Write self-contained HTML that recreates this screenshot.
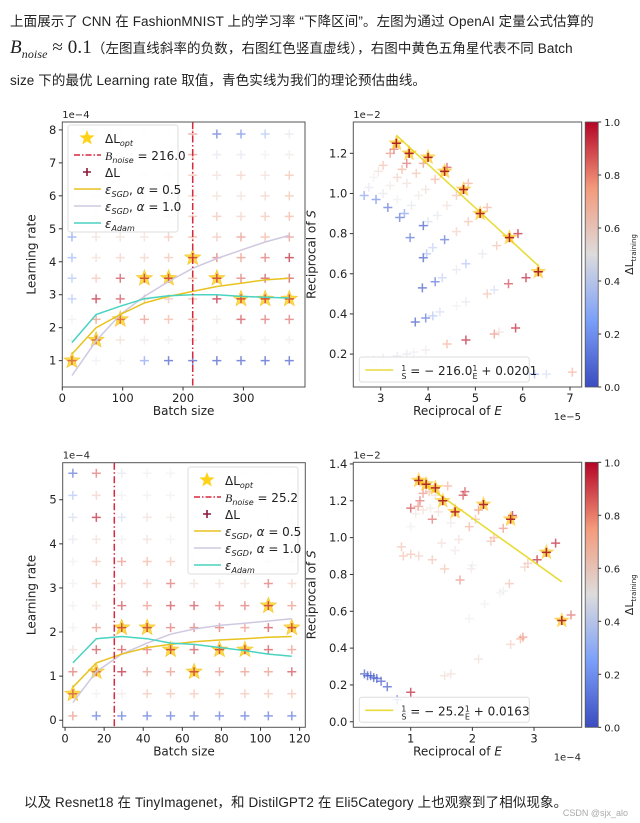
<!DOCTYPE html>
<html><head><meta charset="utf-8">
<style>
html,body{margin:0;padding:0;background:#fff;}
body{width:640px;height:823px;position:relative;overflow:hidden;font-family:"Liberation Sans","Noto Sans CJK SC",sans-serif;color:#222;}
.p{position:absolute;left:10px;font-size:13.5px;white-space:nowrap;letter-spacing:0.1px;}
svg text{font-family:"DejaVu Sans","Liberation Sans",sans-serif;fill:#222;}
</style></head>
<body>
<div class="p" style="top:10px">上面展示了 CNN 在 FashionMNIST 上的学习率 “下降区间”。左图为通过 OpenAI 定量公式估算的</div>
<div class="p" style="top:37px"><span style="font-family:'Liberation Serif',serif;font-size:19px;font-style:italic">B<sub style="font-size:12px">noise</sub></span><span style="font-family:'Liberation Serif',serif;font-size:19px"> ≈ 0.1</span>（左图直线斜率的负数，右图红色竖直虚线），右图中黄色五角星代表不同 Batch</div>
<div class="p" style="top:69px">size 下的最优 Learning rate 取值，青色实线为我们的理论预估曲线。</div>
<div class="p" style="top:791px;left:24px">以及 Resnet18 在 TinyImagenet，和 DistilGPT2 在 Eli5Category 上也观察到了相似现象。</div>
<div style="position:absolute;right:12px;top:808px;font-size:9px;color:#aaa">CSDN @sjx_alo</div>

<svg id="svg" width="640" height="823" style="position:absolute;left:0;top:0"></svg>

<script>
const tlBatch = [16,56,96,136,176,216,256,296,336,376];
const tlLR = [1,1.625,2.25,2.875,3.5,4.125,4.75,5.375,6,6.625,7.25,7.875];
const tlDL = [
 [0.9,0.5,0.5,0.2,0.05,0.05,0.05,0.05,0.05,0.05],
 [0.5,0.9,0.6,0.55,0.52,0.55,0.5,0.5,0.5,0.5],
 [0.5,0.8,0.9,0.8,0.75,0.8,0.55,0.9,0.85,0.85],
 [0.3,0.95,0.9,0.75,0.7,0.75,0.95,0.95,0.95,0.95],
 [0.3,0.7,0.9,0.95,0.95,0.75,0.95,0.85,0.9,0.9],
 [0.25,0.6,0.65,0.65,0.7,0.95,0.85,0.8,0.85,0.95],
 [0.2,0.6,0.6,0.6,0.7,0.75,0.7,0.8,0.75,0.8],
 [0.5,0.6,0.6,0.6,0.65,0.7,0.7,0.65,0.7,0.75],
 [0.5,0.55,0.55,0.6,0.6,0.65,0.6,0.6,0.65,0.7],
 [0.5,0.5,0.5,0.55,0.55,0.7,0.6,0.65,0.6,0.7],
 [0.5,0.5,0.5,0.5,0.5,0.8,0.45,0.45,0.5,0.55],
 [0.5,0.5,0.5,0.5,0.5,0.8,0.1,0.15,0.3,0.45]
];
const tlStarB = [16,56,96,136,176,216,256,296,336,376];
const tlStarLR = [1,1.625,2.25,3.5,3.5,4.125,3.5,2.875,2.875,2.875];
const tlSgd05 = [1.2,2.0,2.4,2.75,2.95,3.1,3.25,3.35,3.45,3.5];
const tlSgd10 = [0.55,1.6,2.4,2.95,3.4,3.8,4.1,4.35,4.6,4.8];
const tlAdam = [1.55,2.4,2.65,2.88,2.97,3.0,3.0,2.95,2.92,2.9];
const tlBnoise = 216.0;
const tlXTicks = [0,100,200,300];
const tlYTicks = [1,2,3,4,5,6,7,8];

const trE = [2.65,2.75,2.85,2.95,3.05,3.2,3.28,3.33, 2.9,3.05,3.2,3.35,3.45,3.55,3.6, 3.15,3.35,3.55,3.75,3.9,4.0,
 3.4,3.5,3.65,3.8,3.95,4.15,4.35,4.4, 3.62,3.9,4.0,4.2,4.4,4.6,4.75,4.85, 3.9,3.97,4.1,4.35,4.6,4.85,5.1,5.25,
 3.88,4.15,4.3,4.6,4.8,5.15,5.45,5.72,5.9, 3.73,3.95,4.1,4.25,4.6,4.8,5.25,5.4,5.7,6.07,6.33,
 2.85,3.05,3.35,3.55,3.7,3.95,4.4,4.8,5.4,5.5,5.85, 5.8,5.95,6.1,6.25,6.5,7.05];
const trS = [0.99,1.03,1.08,1.11,1.14,1.2,1.22,1.25, 0.97,1.0,1.04,1.08,1.12,1.15,1.2, 0.93,0.97,1.05,1.1,1.15,1.18,
 0.88,0.9,0.94,0.99,1.02,1.07,1.11,1.13, 0.78,0.84,0.86,0.89,0.94,0.99,1.02,1.05, 0.68,0.7,0.73,0.77,0.81,0.86,0.9,0.93,
 0.53,0.56,0.58,0.62,0.65,0.7,0.74,0.78,0.8, 0.36,0.38,0.39,0.41,0.44,0.46,0.5,0.52,0.55,0.58,0.61,
 0.17,0.18,0.19,0.2,0.21,0.22,0.25,0.27,0.3,0.31,0.33, 0.1,0.1,0.1,0.1,0.1,0.11];
const trV = [0.2,0.45,0.5,0.6,0.7,0.8,0.85,0.95, 0.15,0.45,0.55,0.65,0.75,0.85,0.95, 0.1,0.5,0.6,0.7,0.8,0.9,
 0.1,0.2,0.45,0.55,0.6,0.75,0.95,0.9, 0.1,0.05,0.4,0.45,0.6,0.7,0.9,0.75, 0.05,0.3,0.35,0.1,0.65,0.7,0.85,0.75,
 0.05,0.1,0.35,0.45,0.3,0.45,0.7,0.9,0.95, 0.05,0.1,0.3,0.4,0.5,0.45,0.7,0.4,0.9,0.95,0.9,
 0.45,0.45,0.45,0.45,0.5,0.55,0.75,0.95,0.8,0.6,0.95, 0.4,0.35,0.3,0.25,0.4,0.75];
const trStarE = [3.33,3.6,4.0,4.35,4.75,5.1,5.72,6.33];
const trStarS = [1.25,1.2,1.18,1.11,1.02,0.9,0.78,0.61];
const trFitE = [3.33,6.33];
const trFitS = [1.29,0.64];
const trXTicks = [3,4,5,6,7];
const trYTicks = [0.2,0.4,0.6,0.8,1.0,1.2];

const blBatch = [4,16,29,42,54,66,79,92,104,116];
const blLR = [0.1,0.6,1.1,1.6,2.1,2.6,3.1,3.6,4.1,4.6,5.1,5.6];
const blDL = [
 [0.8,0.1,0.1,0.1,0.1,0.1,0.1,0.1,0.1,0.1],
 [0.9,0.5,0.55,0.7,0.7,0.7,0.7,0.7,0.7,0.7],
 [0.85,0.9,0.95,0.8,0.8,0.95,0.8,0.8,0.8,0.9],
 [0.6,0.9,0.9,0.85,0.95,0.9,0.95,0.95,0.9,0.8],
 [0.5,0.8,0.95,0.95,0.85,0.85,0.85,0.8,0.9,0.95],
 [0.5,0.6,0.9,0.8,0.9,0.9,0.85,0.85,0.95,0.8],
 [0.5,0.7,0.7,0.7,0.85,0.6,0.6,0.6,0.85,0.65],
 [0.5,0.7,0.8,0.75,0.7,0.6,0.6,0.6,0.6,0.6],
 [0.45,0.6,0.5,0.6,0.5,0.55,0.5,0.55,0.5,0.5],
 [0.4,0.95,0.4,0.6,0.55,0.5,0.5,0.5,0.5,0.5],
 [0.3,0.65,0.5,0.5,0.5,0.5,0.5,0.5,0.5,0.5],
 [0.1,0.85,0.45,0.5,0.5,0.5,0.5,0.5,0.5,0.5]
];
const blStarB = [4,16,29,42,54,66,79,92,104,116];
const blStarLR = [0.6,1.1,2.1,2.1,1.6,1.1,1.6,1.6,2.6,2.1];
const blSgd05 = [0.75,1.3,1.5,1.65,1.72,1.78,1.82,1.85,1.88,1.9];
const blSgd10 = [0.4,1.1,1.5,1.75,1.95,2.07,2.15,2.2,2.25,2.3];
const blAdam = [1.3,1.85,1.9,1.85,1.75,1.72,1.65,1.58,1.5,1.45];
const blBnoise = 25.2;
const blXTicks = [0,20,40,60,80,100,120];
const blYTicks = [0,1,2,3,4,5];

const brE = [0.25,0.3,0.35,0.4,0.45,0.52,0.62,0.78,0.9,0.95, 1.0,1.0,1.12,1.15,1.2,1.0,0.85,0.88,1.0,1.13,1.35,1.35,1.45,1.5,1.55,1.6,1.65,1.72,1.78,1.8,1.85,1.88,1.95,1.98,2.0,2.05,2.1,2.2,1.95,2.1,1.55,1.65,2.3,2.35,2.45,2.5,2.5,2.6,2.62,2.78,2.82,2.85,2.9,3.05,3.35,3.6,2.65,1.25,1.3,1.15,1.08,1.2,1.32,1.4];
const brS = [0.26,0.25,0.25,0.24,0.235,0.22,0.19,0.12,0.05,0.03, 0.16,1.16,1.17,1.2,1.24,1.06,0.95,0.9,0.91,0.9,0.88,1.1,1.14,0.97,0.83,1.28,1.08,0.93,0.99,0.77,1.23,1.25,1.06,0.83,0.85,1.1,1.15,0.64,0.56,0.34,0.25,0.26,0.98,1.0,0.7,0.71,1.05,0.75,0.42,0.45,0.46,0.84,0.86,0.88,0.97,0.58,1.12,1.27,1.25,1.3,1.13,1.15,1.16,1.23];
const brV = [0.05,0.05,0.05,0.05,0.05,0.05,0.05,0.1,0.3,0.35, 0.95,0.9,0.8,0.85,0.8,0.5,0.7,0.7,0.7,0.65,0.7,0.85,0.6,0.6,0.7,0.75,0.55,0.55,0.6,0.8,0.9,0.9,0.75,0.55,0.5,0.7,0.8,0.5,0.5,0.6,0.6,0.6,0.7,0.75,0.5,0.5,0.8,0.7,0.65,0.75,0.8,0.65,0.7,0.95,0.95,0.85,0.95,0.7,0.7,0.65,0.55,0.6,0.55,0.6];
const brStarE = [1.13,1.25,1.4,1.52,1.72,2.18,2.62,3.2,3.45];
const brStarS = [1.31,1.29,1.27,1.2,1.14,1.18,1.1,0.92,0.55];
const brFitE = [1.1,3.45];
const brFitS = [1.32,0.76];
const brXTicks = [1,2,3];
const brYTicks = [0,0.2,0.4,0.6,0.8,1.0,1.2,1.4];
const cbTicks = [0,0.2,0.4,0.6,0.8,1.0];

const NS = "http://www.w3.org/2000/svg";
const svg = document.getElementById('svg');
function mk(tag, attrs, parent){const e=document.createElementNS(NS,tag);for(const k in attrs)e.setAttribute(k,attrs[k]);(parent||svg).appendChild(e);return e;}
const cw=[[0,[59,76,192]],[0.25,[123,159,249]],[0.5,[221,220,220]],[0.75,[244,154,123]],[1,[180,4,38]]];
function cmap(v){v=Math.max(0,Math.min(1,v));for(let i=0;i<cw.length-1;i++){const a=cw[i],b=cw[i+1];if(v<=b[0]){const t=(v-a[0])/(b[0]-a[0]);return 'rgb('+a[1].map((c,j)=>Math.round(c+(b[1][j]-c)*t)).join(',')+')';}}return 'rgb(180,4,38)';}
function scale(d0,d1,p0,p1){return v=>p0+(v-d0)/(d1-d0)*(p1-p0);}
function starPath(cx,cy,R){let d='';for(let i=0;i<10;i++){const r=i%2?R*0.42:R;const a=-Math.PI/2+i*Math.PI/5;d+=(i?'L':'M')+(cx+r*Math.cos(a)).toFixed(1)+' '+(cy+r*Math.sin(a)).toFixed(1);}return d+'Z';}
function plus(g,x,y,col,op,s){return mk('path',{d:`M${x-s} ${y}H${x+s}M${x} ${y-s}V${y+s}`,stroke:col,'stroke-width':1.5,opacity:op},g);}
function opac(v){return 0.3+0.45*Math.abs(v-0.5)*2;}
function txt(g,x,y,s,opts){const t=mk('text',Object.assign({x:x,y:y,'font-size':11.5},opts||{}),g);t.textContent=s;return t;}
function axesFrame(name,L,T,R,B,sx,sy,xt,yt,xfmt,yfmt){
  const g=mk('g',{});
  
  
  xt.forEach(v=>{const x=sx(v);mk('line',{x1:x,x2:x,y1:B,y2:B+3.5,stroke:'#333'},g);const t=txt(g,x,B+15,xfmt(v),{'text-anchor':'middle'});});
  yt.forEach(v=>{const y=sy(v);mk('line',{x1:L-3.5,x2:L,y1:y,y2:y,stroke:'#333'},g);const t=txt(g,L-6,y+4,yfmt(v),{'text-anchor':'end'});});
  return g;
}
function frame(L,T,R,B){mk('rect',{x:L,y:T,width:R-L,height:B-T,fill:'none',stroke:'#555','stroke-width':1});}
function poly(g,xs,ys,sx,sy,attrs){const d=xs.map((x,i)=>(i?'L':'M')+sx(x).toFixed(1)+' '+sy(ys[i]).toFixed(1)).join('');return mk('path',Object.assign({d:d,fill:'none'},attrs),g);}

function leftPanel(name,L,T,R,B,xd,yd,batch,lr,dl,stB,stL,s05,s10,adam,bn,xt,yt,yfmt,legX,legY,bnText){
  const sx=scale(xd[0],xd[1],L,R), sy=scale(yd[0],yd[1],B,T);
  const g=mk('g',{});
  
  
  mk('rect',{x:L,y:T,width:R-L,height:B-T,fill:'#fff'},g);
  const sg=mk('g',{},g);
  
  
  stB.forEach((b,i)=>{const s=mk('path',{d:starPath(sx(b),sy(stL[i]),8.5),fill:'#ffd21a',opacity:0.8,stroke:'#f0b800','stroke-width':0.6},sg);});
  const pg=mk('g',{},g);
  
  
  lr.forEach((l,r)=>batch.forEach((b,c)=>{const v=dl[r][c];const p=plus(pg,sx(b),sy(l),cmap(v),opac(v),4.5);}));
  const l1=poly(g,batch,s10,sx,sy,{stroke:'#cfc8e0','stroke-width':1.5});
  
  const l2=poly(g,batch,s05,sx,sy,{stroke:'#e8c21e','stroke-width':1.5});
  
  const l3=poly(g,batch,adam,sx,sy,{stroke:'#49d3c0','stroke-width':1.5});
  
  const vl=mk('line',{x1:sx(bn),x2:sx(bn),y1:T,y2:B,stroke:'#d6283e','stroke-width':1.5,'stroke-dasharray':'7 2.5 1.5 2.5'},g);
  
  const lg=mk('g',{},g);
  
  
  mk('rect',{x:legX,y:legY,width:110,height:107,rx:2.5,fill:'#fff','fill-opacity':0.85,stroke:'#ddd'},lg);
  const ex=legX+6, tx=legX+37; let y=legY+13;
  mk('path',{d:starPath(ex+13,y,8),fill:'#ffd21a'},lg); const a=txt(lg,tx,y+5,'',{'font-size':12}); a.innerHTML='ΔL<tspan font-size="8" dy="3" font-style="italic">opt</tspan>'; y+=17;
  mk('line',{x1:ex,x2:ex+27,y1:y,y2:y,stroke:'#d6283e','stroke-width':1.5,'stroke-dasharray':'6 2 1.5 2'},lg); const b=txt(lg,tx,y+5,'',{'font-size':12}); b.innerHTML='<tspan font-style="italic" font-family="Liberation Serif">B</tspan><tspan font-size="8" dy="3" font-style="italic">noise</tspan><tspan dy="-3"> = '+bnText+'</tspan>'; y+=17;
  mk('path',{d:`M${ex+9} ${y}H${ex+17}M${ex+13} ${y-4}V${y+4}`,stroke:'#8b1a3a','stroke-width':1.6},lg); const c=txt(lg,tx,y+5,'',{'font-size':12}); c.innerHTML='ΔL'; y+=17;
  mk('line',{x1:ex,x2:ex+27,y1:y,y2:y,stroke:'#e8c21e','stroke-width':1.5},lg); const d=txt(lg,tx,y+5,'',{'font-size':12}); d.innerHTML='<tspan font-style="italic">ε</tspan><tspan font-size="8" dy="3" font-style="italic">SGD</tspan><tspan dy="-3">, </tspan><tspan font-style="italic">α</tspan> = 0.5'; y+=17;
  mk('line',{x1:ex,x2:ex+27,y1:y,y2:y,stroke:'#cfc8e0','stroke-width':1.5},lg); const e=txt(lg,tx,y+5,'',{'font-size':12}); e.innerHTML='<tspan font-style="italic">ε</tspan><tspan font-size="8" dy="3" font-style="italic">SGD</tspan><tspan dy="-3">, </tspan><tspan font-style="italic">α</tspan> = 1.0'; y+=17;
  mk('line',{x1:ex,x2:ex+27,y1:y,y2:y,stroke:'#49d3c0','stroke-width':1.5},lg); const f=txt(lg,tx,y+5,'',{'font-size':12}); f.innerHTML='<tspan font-style="italic">ε</tspan><tspan font-size="8" dy="3" font-style="italic">Adam</tspan>';
  frame(L,T,R,B);
  axesFrame(name,L,T,R,B,sx,sy,xt,yt,v=>String(v),yfmt);
  const o=txt(svg,L,T-4,'1e−4',{'font-size':10});
  const xl=txt(svg,(L+R)/2,B+28,'Batch size',{'text-anchor':'middle','font-size':12});
  const yl=txt(svg,0,0,'Learning rate',{'text-anchor':'middle','font-size':12,transform:`translate(${L-27},${(T+B)/2}) rotate(-90)`});
}

function rightPanel(name,L,T,R,B,xd,yd,E,S,V,stE,stS,fE,fS,xt,yt,xoff,legTxt){
  const sx=scale(xd[0],xd[1],L,R), sy=scale(yd[0],yd[1],B,T);
  const g=mk('g',{});
  
  
  const pg=mk('g',{},g);
  
  
  E.forEach((e,i)=>{const p=plus(pg,sx(e),sy(S[i]),cmap(V[i]),opac(V[i]),4.5);});
  const fl=poly(g,fE,fS,sx,sy,{stroke:'#e8dc3a','stroke-width':1.6});
  
  const sg=mk('g',{},g);
  
  
  stE.forEach((e,i)=>{const s=mk('path',{d:starPath(sx(e),sy(stS[i]),8.5),fill:'#ffc41a',opacity:0.7},sg);const p=plus(sg,sx(e),sy(stS[i]),'#a0101e',0.85,4.5);});
  const lg=mk('g',{},g);
  
  
  mk('rect',{x:L+6,y:B-30,width:170,height:25,rx:2.5,fill:'#fff','fill-opacity':0.85,stroke:'#ddd'},lg);
  mk('line',{x1:L+12,x2:L+40,y1:B-17,y2:B-17,stroke:'#e8dc3a','stroke-width':1.6},lg);
  const lt=txt(lg,L+48,B-12,'',{'font-size':12});
  lt.innerHTML='<tspan font-size="8" dy="-4">1</tspan><tspan font-size="8" dx="-5" dy="8">S</tspan><tspan dy="-4"> = − '+legTxt[0]+'</tspan><tspan font-size="8" dy="-4">1</tspan><tspan font-size="8" dx="-5" dy="8">E</tspan><tspan dy="-4"> + '+legTxt[1]+'</tspan>';
  frame(L,T,R,B);
  axesFrame(name,L,T,R,B,sx,sy,xt,yt,v=>String(v),v=>v.toFixed(1));
  const o=txt(svg,L,T-4,'1e−2',{'font-size':10});
  const o2=txt(svg,R-28,B+33,xoff,{'font-size':10});
  const xl=txt(svg,(L+R)/2-10,B+28,'',{'text-anchor':'middle','font-size':12});xl.innerHTML='Reciprocal of <tspan font-style="italic">E</tspan>';
  const yl=txt(svg,0,0,'',{'text-anchor':'middle','font-size':12,transform:`translate(${L-38},${(T+B)/2}) rotate(-90)`});yl.innerHTML='Reciprocal of <tspan font-style="italic">S</tspan>';
  const cb=mk('g',{});
  
  
  const gid='cbg'+name;
  const defs=mk('defs',{},cb);const lgd=mk('linearGradient',{id:gid,x1:0,y1:1,x2:0,y2:0},defs);
  cw.forEach(s=>mk('stop',{offset:s[0],'stop-color':'rgb('+s[1].join(',')+')'},lgd));
  const cL=R+3.5,cR=R+16.5;
  mk('rect',{x:cL,y:T,width:cR-cL,height:B-T,fill:`url(#${gid})`,stroke:'#555','stroke-width':0.8},cb);
  const cy=scale(0,1,B,T);
  cbTicks.forEach(v=>{mk('line',{x1:cR,x2:cR+3,y1:cy(v),y2:cy(v),stroke:'#333'},cb);const t=txt(cb,cR+6,cy(v)+4,v.toFixed(1),{'font-size':10});});
  const cl=txt(cb,0,0,'',{'text-anchor':'middle','font-size':11,transform:`translate(${cR+35},${(T+B)/2}) rotate(-90)`});
  cl.innerHTML='ΔL<tspan font-size="7" dy="3">training</tspan>';
  
}

leftPanel('fashionmnist-lr-chart',62.3,122,305,387,[0,402],[0.2,8.24],tlBatch,tlLR,tlDL,tlStarB,tlStarLR,tlSgd05,tlSgd10,tlAdam,tlBnoise,tlXTicks,tlYTicks,v=>String(v),68,125,'216.0');
rightPanel('fashionmnist-reciprocal-chart',353.3,122,581.7,387,[2.42,7.247],[0.036,1.356],trE,trS,trV,trStarE,trStarS,trFitE,trFitS,trXTicks,trYTicks,'1e−5',['216.0','0.0201']);
leftPanel('second-lr-chart',62.7,462.7,305.3,727.3,[-1.2,122.9],[-0.16,5.84],blBatch,blLR,blDL,blStarB,blStarLR,blSgd05,blSgd10,blAdam,blBnoise,blXTicks,blYTicks,v=>String(v),188,467,'25.2');
rightPanel('second-reciprocal-chart',353.3,462.3,581.7,727.3,[0.069,3.773],[-0.03,1.409],brE,brS,brV,brStarE,brStarS,brFitE,brFitS,brXTicks,brYTicks,'1e−4',['25.2','0.0163']);
</script>
</body></html>
